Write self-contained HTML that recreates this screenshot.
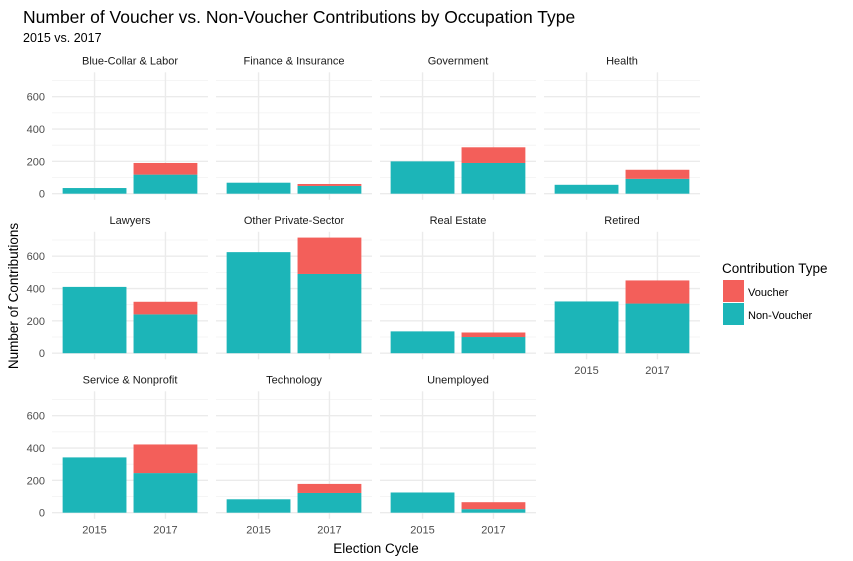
<!DOCTYPE html>
<html><head><meta charset="utf-8"><style>
body{margin:0;background:#fff;}
svg{display:block;font-family:"Liberation Sans",Arial,sans-serif;}
</style></head><body>
<svg id="chart" width="853" height="561" xmlns="http://www.w3.org/2000/svg">
<text x="23" y="23" font-size="17.5" fill="#000">Number of Voucher vs. Non-Voucher Contributions by Occupation Type</text>
<text x="23" y="42" font-size="12.5" fill="#000">2015 vs. 2017</text>
<text transform="translate(18,296) rotate(-90)" text-anchor="middle" font-size="13.5" fill="#000">Number of Contributions</text>
<text x="376" y="553" text-anchor="middle" font-size="13.5" fill="#000">Election Cycle</text>
<g>
<text x="722" y="273" font-size="13.5" fill="#000">Contribution Type</text>
<rect x="723" y="280" width="21" height="22" fill="#F35F5A"/>
<text x="748" y="296" font-size="11" fill="#000">Voucher</text>
<rect x="723" y="303" width="21" height="22" fill="#1CB5B8"/>
<text x="748" y="319" font-size="11" fill="#000">Non-Voucher</text>
</g>
<g id="panels"></g>
</svg>
<script>
const facets=["Blue-Collar & Labor","Finance & Insurance","Government","Health","Lawyers","Other Private-Sector","Real Estate","Retired","Service & Nonprofit","Technology","Unemployed"];
const years=["2015","2017"];
const nonVoucher2015=[35,68,200,55,410,625,135,320,342,83,125];
const nonVoucher2017=[118,48,190,92,240,490,100,307,245,122,22];
const voucher2017=[72,12,97,56,78,225,28,143,177,56,43];
const voucher2015=[0,0,0,0,0,0,0,0,0,0,0];
const yTicks=[0,200,400,600];
const yMinor=[100,300,500,700];

const NS="http://www.w3.org/2000/svg";
const g=document.getElementById('panels');
const PW=156,GAP=8,X0=52,ZERO0=193.7,ROWSTEP=159.5,K=0.1617,PH=127.5;
function mk(tag,attrs,parent){const e=document.createElementNS(NS,tag);for(const k in attrs)e.setAttribute(k,attrs[k]);parent.appendChild(e);return e;}
function xScale(px,i){return px+(i+1-0.4)*PW/2.2;}
facets.forEach((f,idx)=>{
  const row=Math.floor(idx/4),col=idx%4;
  const px=X0+col*(PW+GAP);
  const zero=ZERO0+row*ROWSTEP;
  const y=v=>zero-v*K;
  const top=y(750.75);
  const pg=mk('g',{},g);
  
  
  yMinor.forEach(v=>mk('line',{x1:px,x2:px+PW,y1:y(v),y2:y(v),stroke:'#f2f2f2','stroke-width':0.8},pg));
  yTicks.forEach(v=>mk('line',{x1:px,x2:px+PW,y1:y(v),y2:y(v),stroke:'#ebebeb','stroke-width':1.4},pg));
  years.forEach((yr,i)=>mk('line',{x1:xScale(px,i),x2:xScale(px,i),y1:top,y2:top+PH,stroke:'#ebebeb','stroke-width':1.4},pg));
  const st=mk('text',{x:px+PW/2,y:top-8,'text-anchor':'middle','font-size':'11',fill:'#1a1a1a'},pg);
  st.textContent=f;
  
  
  const nv=[nonVoucher2015[idx],nonVoucher2017[idx]];
  const vv=[voucher2015[idx],voucher2017[idx]];
  const bw=0.9*PW/2.2;
  years.forEach((yr,i)=>{
    const cx=xScale(px,i);
    const b1=mk('rect',{x:cx-bw/2,y:y(nv[i]),width:bw,height:nv[i]*K,fill:'#1CB5B8'},pg);
    
    
    if(vv[i]>0){
      const b2=mk('rect',{x:cx-bw/2,y:y(nv[i]+vv[i]),width:bw,height:vv[i]*K,fill:'#F35F5A'},pg);
      
      
    }
  });
  if(col===0){
    yTicks.forEach(v=>{const t=mk('text',{x:px-7,y:y(v)+4,'text-anchor':'end','font-size':'11',fill:'#4d4d4d'},pg);t.textContent=v;
      
      });
  }
  if(row===2||idx===7){
    years.forEach((yr,i)=>{const t=mk('text',{x:xScale(px,i),y:zero+21,'text-anchor':'middle','font-size':'11',fill:'#4d4d4d'},pg);t.textContent=yr;
      
      });
  }
});
</script>
</body></html>
